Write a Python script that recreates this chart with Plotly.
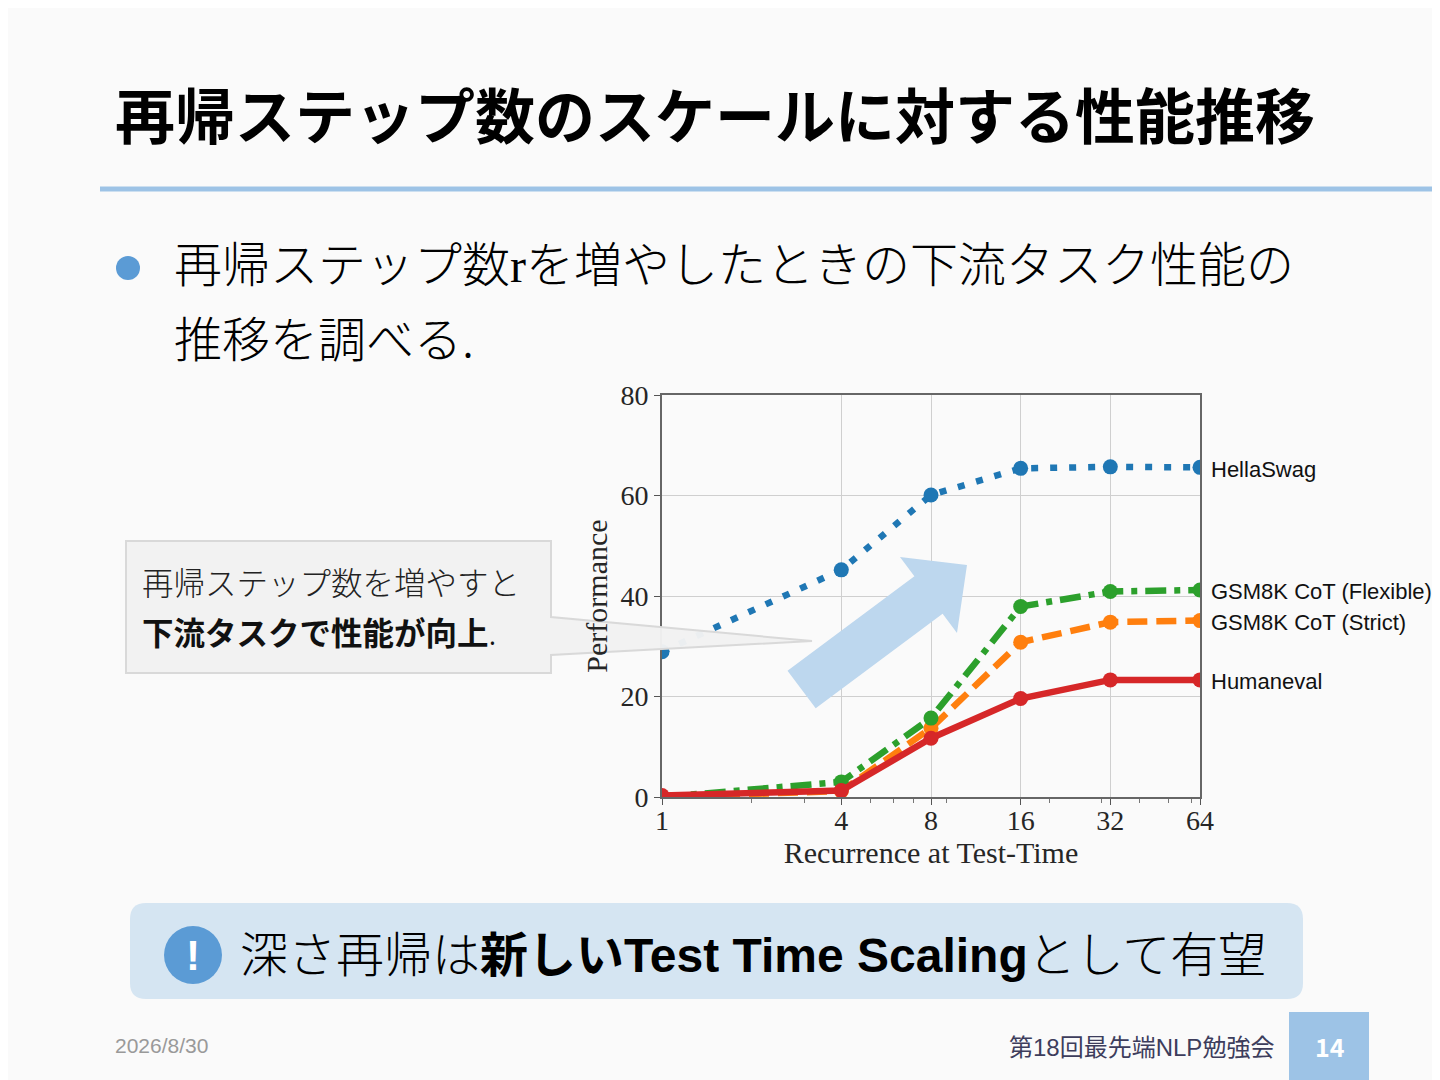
import numpy as np
from plotly import graph_objects as go

# --- chart data ---
recurrence = [1, 4, 8, 16, 32, 64]
hellaswag = [28.9, 45.2, 60.1, 65.4, 65.7, 65.6]
gsm8k_strict = [0.0, 1.2, 13.7, 30.8, 34.8, 35.1]
gsm8k_flexible = [0.0, 3.0, 15.7, 37.9, 40.9, 41.2]
humaneval = [0.3, 1.3, 11.7, 19.6, 23.3, 23.3]

series_names = ["HellaSwag", "GSM8K CoT (Strict)", "GSM8K CoT (Flexible)", "Humaneval"]
x_tick_vals = [1, 4, 8, 16, 32, 64]
x_minor_vals = [2, 3, 5, 6, 7, 9, 20, 30, 40, 50, 60]
y_tick_vals = [0, 20, 40, 60, 80]

title_text = "再帰ステップ数のスケールに対する性能推移"
bullet_line1 = "再帰ステップ数<span style='font-family:Liberation Serif'>r</span>を増やしたときの下流タスク性能の"
bullet_line2 = "推移を調べる."
callout_line1 = "再帰ステップ数を増やすと"
callout_line2 = "<b>下流タスクで性能が向上</b>."
bottom_text = "深さ再帰は<b>新しいTest Time Scaling</b>として有望"
date_text = "2026/8/30"
event_text = "第18回最先端NLP勉強会"
page_text = "14"

W, H = 1440, 1080
OFF = 8  # page body margin seen in the screenshot
BG = "#fafafa"
JP = "Noto Sans CJK JP"
SERIF = "Liberation Serif"
SANS = "Liberation Sans"


def px(x):
	return (x - OFF) / W


def py(y):
	return 1 - (y - OFF) / H


fig = go.Figure()

styles = [
	dict(color="#1f77b4", dash="7px,12px"),
	dict(color="#ff7f0e", dash="20px,9px"),
	dict(color="#2ca02c", dash="21px,8px,6px,8px"),
	dict(color="#d62728", dash="solid"),
]
values = [hellaswag, gsm8k_strict, gsm8k_flexible, humaneval]

for name, vals, st in zip(series_names, values, styles):
	fig.add_trace(go.Scatter(
		x=recurrence, y=vals, mode="lines+markers", name=name,
		line=dict(color=st["color"], width=6.5, dash=st["dash"]),
		marker=dict(color=st["color"], size=15),
	))
	# end-of-line label
	fig.add_annotation(
		x=np.log10(recurrence[-1]), y=vals[-1], xref="x", yref="y",
		text=name, showarrow=False, xanchor="left", xshift=9, yshift=-2,
		font=dict(family=SANS, size=22, color="#111"),
	)

axis_font = dict(family=SERIF, size=28, color="#262626")

fig.update_xaxes(
	type="log", range=[0, np.log10(64)], automargin=False,
	domain=[px(662), px(1200)],
	tickvals=x_tick_vals, ticktext=[str(v) for v in x_tick_vals],
	tickfont=axis_font, ticks="outside", ticklen=6, tickcolor="#555",
	ticklabelstandoff=-9,
	minor=dict(tickvals=x_minor_vals, ticks="outside", ticklen=4, tickcolor="#777", showgrid=False),
	showgrid=True, gridcolor="#cfcfcf", gridwidth=1.2,
	showline=True, linecolor="#666", linewidth=2, mirror=True,
	zeroline=False,
	title=dict(text="Recurrence at Test-Time", font=dict(family=SERIF, size=30, color="#262626"), standoff=4),
)
fig.update_yaxes(
	range=[0, 80], domain=[py(797), py(395)], automargin=False,
	tickvals=y_tick_vals, tickfont=axis_font,
	ticks="outside", ticklen=6, tickcolor="#555",
	showgrid=True, gridcolor="#cfcfcf", gridwidth=1.2,
	showline=True, linecolor="#666", linewidth=2, mirror=True,
	zeroline=False,
	title=dict(text="Performance", font=dict(family=SERIF, size=30, color="#262626"), standoff=4),
)

shapes = []
# title underline
shapes.append(dict(type="line", xref="paper", yref="paper", x0=px(100), x1=px(1450),
				   y0=py(189), y1=py(189), line=dict(color="#9dc3e6", width=5)))
# bullet
shapes.append(dict(type="circle", xref="paper", yref="paper", x0=px(116), x1=px(140),
				   y0=py(280), y1=py(256), fillcolor="#5b9bd5", line=dict(width=0)))

# callout box with pointer
pts = [(126, 541), (551, 541), (551, 617), (812, 641), (551, 655), (551, 673), (126, 673)]
path = "M " + " L ".join(f"{px(x):.5f},{py(y):.5f}" for x, y in pts) + " Z"
shapes.append(dict(type="path", xref="paper", yref="paper", path=path, layer="above",
				   fillcolor="rgba(242,242,242,0.97)", line=dict(color="#d9d9d9", width=2)))

# big arrow
arrow = [(787.5, 670.7), (914.4, 576.2), (900, 557), (967, 565), (957, 633),
		 (942.6, 613.8), (815.7, 708.3)]
apath = "M " + " L ".join(f"{px(x):.5f},{py(y):.5f}" for x, y in arrow) + " Z"
shapes.append(dict(type="path", xref="paper", yref="paper", path=apath, layer="above",
				   fillcolor="#bdd7ee", line=dict(width=0)))

# bottom highlight box (rounded)
x0, x1, y0, y1, r = 130, 1303, 903, 999, 16
rpath = (f"M {px(x0 + r)},{py(y0)} L {px(x1 - r)},{py(y0)} "
		 f"Q {px(x1)},{py(y0)} {px(x1)},{py(y0 + r)} L {px(x1)},{py(y1 - r)} "
		 f"Q {px(x1)},{py(y1)} {px(x1 - r)},{py(y1)} L {px(x0 + r)},{py(y1)} "
		 f"Q {px(x0)},{py(y1)} {px(x0)},{py(y1 - r)} L {px(x0)},{py(y0 + r)} "
		 f"Q {px(x0)},{py(y0)} {px(x0 + r)},{py(y0)} Z")
shapes.append(dict(type="path", xref="paper", yref="paper", path=rpath,
				   fillcolor="#d5e5f2", line=dict(width=0)))
# exclamation circle
shapes.append(dict(type="circle", xref="paper", yref="paper", x0=px(164), x1=px(222),
				   y0=py(984), y1=py(926), fillcolor="#5b9bd5", line=dict(width=0)))
# page number box
shapes.append(dict(type="rect", xref="paper", yref="paper", x0=px(1289), x1=px(1369),
				   y0=py(1090), y1=py(1012), fillcolor="#9dc3e6", line=dict(width=0)))

fig.update_layout(shapes=shapes)


def text(x, y, s, size, color="#000", family=JP, anchor="left", weight=None):
	font = dict(family=family, size=size, color=color)
	if weight:
		font["weight"] = weight
	fig.add_annotation(x=px(x), y=py(y), xref="paper", yref="paper", text=s,
					   showarrow=False, xanchor=anchor, yanchor="middle", font=font)


text(113, 112, f"<b>{title_text}</b>", 60)
text(172, 261, bullet_line1, 48, weight=300)
text(172, 336, bullet_line2, 48, weight=300)
text(140, 581, callout_line1, 31.5, color="#222", weight=300)
text(140, 631, callout_line2, 31.5, color="#111", weight=300)
text(193, 955, "<b>!</b>", 42, color="#ffffff", family=SANS, anchor="center")
text(238, 955, bottom_text, 48, family=f"{SANS}, {JP}", weight=300)
text(113, 1045, date_text, 21, color="#999999", family=SANS)
text(1276, 1047, event_text, 24, color="#3d3d5c", family=f"{SANS}, {JP}", anchor="right")
text(1330, 1046, f"<b>{page_text}</b>", 25, color="#ffffff", family=JP, anchor="center")

fig.update_layout(
	width=W, height=H, autosize=False,
	margin=dict(l=0, r=0, t=0, b=0, pad=0),
	paper_bgcolor=BG, plot_bgcolor=BG,
	showlegend=False,
)

fig.write_html("out.html")
